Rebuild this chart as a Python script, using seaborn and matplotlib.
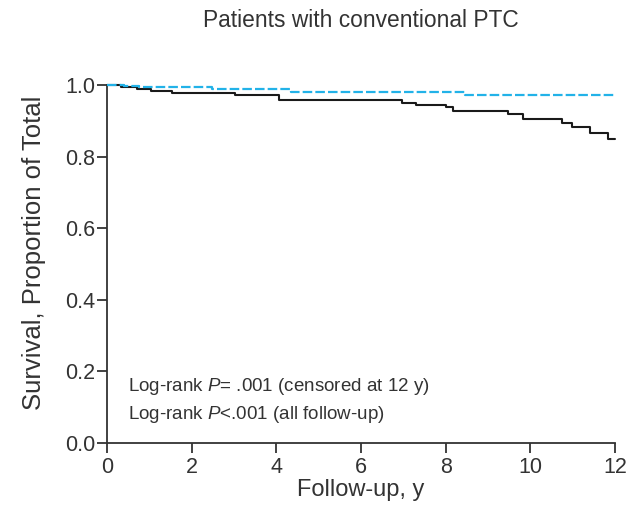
import matplotlib
matplotlib.use("Agg")
import matplotlib.pyplot as plt
import seaborn as sns
import pandas as pd

# Kaplan-Meier step points (time in years, survival proportion)
solid_times = [0.0, 0.32, 0.70, 1.03, 1.53, 3.02, 4.07, 6.96, 7.30, 8.01, 8.17, 9.48, 9.82, 10.74, 10.98, 11.41, 11.84, 12.0]
solid_surv = [1.000, 0.994, 0.989, 0.983, 0.978, 0.971, 0.959, 0.949, 0.943, 0.938, 0.926, 0.918, 0.904, 0.893, 0.882, 0.865, 0.848, 0.848]

dashed_times = [0.0, 0.40, 0.76, 2.47, 4.35, 8.46, 12.0]
dashed_surv = [1.000, 0.998, 0.994, 0.989, 0.981, 0.972, 0.972]

x_ticks = [0, 2, 4, 6, 8, 10, 12]
y_ticks = [0.0, 0.2, 0.4, 0.6, 0.8, 1.0]
y_tick_labels = ["0.0", "0.2", "0.4", "0.6", "0.8", "1.0"]

title = "Patients with conventional PTC"
x_label = "Follow-up, y"
y_label = "Survival, Proportion of Total"
note_lines = ["Log-rank $P$= .001 (censored at 12 y)", "Log-rank $P$<.001 (all follow-up)"]

sns.set_style("ticks")
font = "Liberation Sans"
plt.rcParams["font.family"] = [font, "DejaVu Sans"]
plt.rcParams["mathtext.fontset"] = "custom"
plt.rcParams["mathtext.rm"] = font
plt.rcParams["mathtext.it"] = font + ":italic"

text_color = "#333333"
axis_color = "#333333"

fig = plt.figure(figsize=(6.43, 5.23), dpi=100)
ax = fig.add_axes([0.1664, 0.1530, 0.7901, 0.6845])

solid_df = pd.DataFrame({"time": solid_times, "survival": solid_surv})
dashed_df = pd.DataFrame({"time": dashed_times, "survival": dashed_surv})

sns.lineplot(data=dashed_df, x="time", y="survival", ax=ax, drawstyle="steps-post",
             color="#22b2e8", linewidth=1.6, linestyle=(0, (4.3, 1.4)), clip_on=False, zorder=3)
sns.lineplot(data=solid_df, x="time", y="survival", ax=ax, drawstyle="steps-post",
             color="#1a1a1a", linewidth=1.5, clip_on=False, zorder=2)

ax.set_xlim(0, 12)
ax.set_ylim(0, 1.0)
ax.set_xticks(x_ticks)
ax.set_yticks(y_ticks)
ax.set_yticklabels(y_tick_labels)
sns.despine(ax=ax)
for side in ("left", "bottom"):
    ax.spines[side].set_color(axis_color)
    ax.spines[side].set_linewidth(1.3)
ax.tick_params(axis="both", direction="out", length=7, width=1.3, color=axis_color,
               labelsize=15.5, labelcolor=text_color)
ax.tick_params(axis="x", pad=3)
ax.tick_params(axis="y", pad=1.5)

ax.set_xlabel(x_label, fontsize=17, color=text_color)
ax.xaxis.set_label_coords(0.5, -0.1)
ax.set_ylabel(y_label, fontsize=18.5, color=text_color)
ax.yaxis.set_label_coords(-0.12, 0.531)
ax.set_title(title, fontsize=16.4, color=text_color, pad=42)

ax.text(0.041, 0.145, note_lines[0], transform=ax.transAxes, fontsize=13.5,
        color=text_color, va="baseline", ha="left")
ax.text(0.041, 0.066, note_lines[1], transform=ax.transAxes, fontsize=13.5,
        color=text_color, va="baseline", ha="left")

fig.savefig("out.png", dpi=100, facecolor="white")
